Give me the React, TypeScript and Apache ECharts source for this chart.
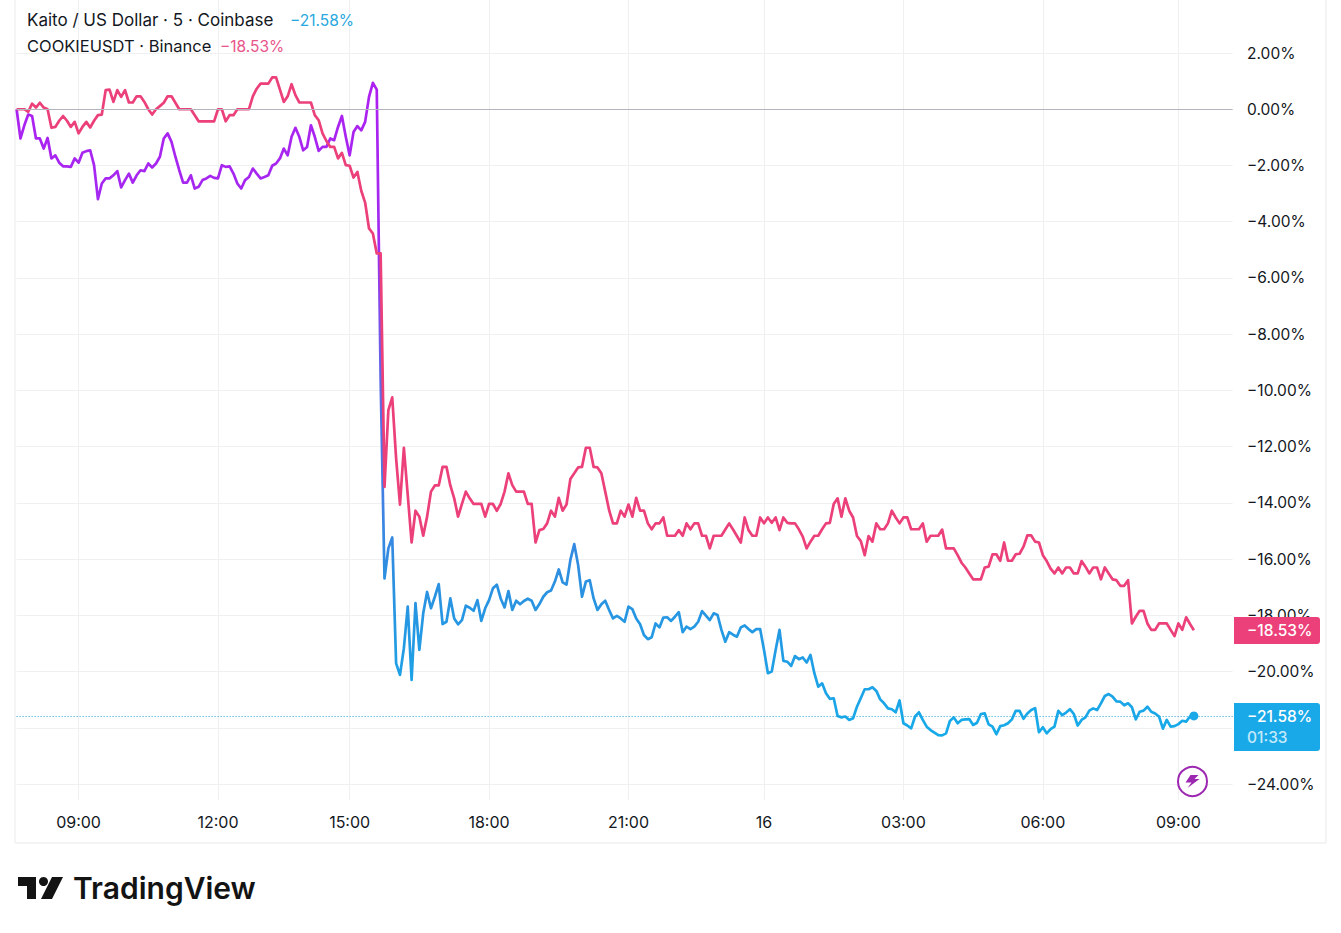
import React, { useEffect, useRef } from "react";
import * as echarts from "echarts";

const FONT = 'Inter, "Noto Sans", sans-serif';

const tickIndices = [16, 52, 86, 122, 158, 193, 229, 265, 300];
const tickLabels = ["09:00", "12:00", "15:00", "18:00", "21:00", "16", "03:00", "06:00", "09:00"];
const slotCount = 315;
const hiddenPriceLabels = [-22];

const kaitoA = [
  0, -1.04, -0.57, -0.19, -0.24, -1.04, -1.04, -1.4, -1.02, -1.75, -1.64, -1.9, -2.03, -2.03, -2.05, -1.75,
  -1.9, -1.55, -1.49, -1.46, -1.99, -3.2, -2.64, -2.46, -2.46, -2.35, -2.2, -2.78, -2.52, -2.29, -2.61, -2.35,
  -2.17, -2.2, -1.93, -2.07, -1.93, -1.69, -1.04, -0.86, -1.16, -1.69, -2.17, -2.61, -2.61, -2.35, -2.82, -2.76,
  -2.52, -2.46, -2.37, -2.44, -2.46, -1.99, -2.05, -2.03, -2.29, -2.64, -2.82, -2.52, -2.41, -2.11, -2.29, -2.46,
  -2.41, -2.35, -2.01, -1.93, -1.75, -1.4, -1.64, -0.98, -0.66, -0.98, -1.46, -1.34, -0.57, -0.98, -1.48, -1.34,
  -1.34, -1.04, -1.1, -0.63, -0.24, -0.98, -1.64, -0.81, -0.6, -0.75, -0.45, 0.44, 0.94, 0.7, -9.6,
];
const kaitoB = [
  -16.69, -15.62, -15.23, -19.71, -20.12, -19.17, -17.69, -20.3, -17.57, -19.23, -17.93, -17.17, -17.75, -17.34, -16.89,
  -18.31, -18.23, -17.4, -18.11, -18.32, -18.17, -17.66, -17.73, -17.84, -17.46, -18.2, -17.75, -17.46, -17.04, -16.91,
  -17.4, -17.72, -17.14, -17.81, -17.48, -17.61, -17.49, -17.41, -17.48, -17.81, -17.6, -17.34, -17.18, -17.12, -16.8,
  -16.37, -16.83, -16.91, -16.03, -15.47, -16.21, -17.34, -16.8, -16.75, -17.4, -17.81, -17.61, -17.48, -17.81, -18.11,
  -18.02, -18.11, -18.23, -17.69, -17.78, -18.11, -18.32, -18.7, -18.85, -18.78, -18.29, -18.43,
];
const kaitoC = [
  -18.08, -18.07, -18.2, -18.05, -17.89, -18.6, -18.4, -18.49, -18.4, -18.23, -17.85, -18.01, -18.17, -17.93, -17.99,
  -18.52, -18.94, -18.6, -18.69, -18.76, -18.43, -18.36, -18.49, -18.6, -18.49, -18.49, -19.23, -20.06, -20.0, -19.23,
  -18.52, -19.62, -19.65, -19.8, -19.45, -19.56, -19.5, -19.68, -19.41, -20.06, -20.54, -20.42, -20.77, -20.97, -20.95,
  -21.58, -21.63, -21.6, -21.72, -21.66, -21.25, -20.94, -20.63, -20.63, -20.56, -20.69, -20.99, -21.13, -21.31, -21.34,
  -21.45, -21.03, -21.84, -21.92, -22.02, -21.6, -21.45,
];
const kaitoD = [
  -21.72, -21.96, -22.08, -22.17, -22.26, -22.27, -22.2, -21.76, -21.63, -21.84, -21.72, -21.7, -21.69, -21.9, -21.82,
  -21.51, -21.49, -21.88, -21.96, -22.23, -21.94, -21.91, -21.84, -21.7, -21.4, -21.4, -21.68, -21.49, -21.37, -21.3,
  -22.16, -21.98, -22.2, -22.05, -21.96, -21.4, -21.55, -21.46, -21.34, -21.51, -21.92, -21.72, -21.63, -21.39, -21.31,
  -21.37, -21.13, -20.87, -20.8, -20.89, -21.06, -21.07, -21.2, -21.13, -21.27, -21.7, -21.43, -21.39, -21.25, -21.43,
  -21.49, -21.6, -22.03, -21.72, -21.96, -21.94, -21.87, -21.75, -21.78, -21.6, -21.58,
];
const kaitoValues = [...kaitoA, ...kaitoB, ...kaitoC, ...kaitoD];

const cookieA = [
  0, 0, 0, -0.09, 0.2, 0.06, 0.23, 0.06, 0, -0.66, -0.63, -0.41, -0.24, -0.41, -0.63, -0.45,
  -0.86, -0.63, -0.45, -0.65, -0.41, -0.21, -0.19, 0.68, 0.7, 0.26, 0.68, 0.44, 0.68, 0.24, 0.24, 0.46,
  0.46, 0.26, 0, -0.19, 0, 0.11, 0.23, 0.46, 0.46, 0.23, 0, 0, 0, 0, -0.21, -0.43,
  -0.43, -0.43, -0.43, -0.43, 0, 0, -0.43, -0.21, -0.21, 0, 0, 0, 0, 0.46, 0.73, 0.91,
  0.91, 0.91, 1.13, 1.13, 0.7, 0.26, 0.46, 0.89, 0.5, 0.24, 0.24, 0.24, 0.24, -0.21, -0.39, -0.86,
  -1.13, -1.34, -1.34, -1.75, -1.55, -1.99, -2.01, -2.43, -2.23, -2.9, -3.32, -4.24, -4.42, -5.13, -5.13,
];
const cookieB = [
  -13.43, -10.7, -10.25, -12.42, -14.06, -12.04, -13.72, -15.41, -14.28, -14.49, -15.17, -14.49, -13.6, -13.38, -13.38,
  -12.72, -12.72, -13.38, -13.84, -14.49, -14.04, -13.6, -13.84, -14.04, -14.04, -14.04, -14.49, -14.04, -14.04, -14.28,
  -14.04, -13.6, -12.95, -13.37, -13.6, -13.6, -13.6, -14.04, -14.04, -15.41, -14.97, -14.93, -14.73, -14.28, -14.49,
  -13.82, -14.28, -14.06, -13.15, -12.95, -12.74, -12.72, -12.04, -12.04, -12.72, -12.74, -12.95, -13.6, -14.26, -14.73,
  -14.73, -14.28, -14.49, -14.06, -14.49, -13.82, -14.28, -14.28, -14.73, -14.94, -14.73, -14.73,
];
const cookieC = [
  -14.52, -15.17, -15.17, -15.17, -14.97, -15.17, -14.73, -14.94, -14.73, -14.73, -15.17, -15.17, -15.62, -15.17, -15.17,
  -15.17, -14.95, -14.73, -14.95, -15.18, -15.41, -14.52, -14.97, -15.17, -15.17, -14.52, -14.73, -14.52, -14.71, -14.52,
  -14.97, -14.52, -14.71, -14.73, -14.73, -14.94, -15.2, -15.62, -15.38, -15.17, -15.17, -14.94, -14.73, -14.71, -14.04,
  -13.84, -14.49, -13.84, -14.28, -14.52, -15.18, -15.36, -15.86, -15.18, -15.38, -14.73, -14.94, -14.94, -14.73, -14.28,
  -14.52, -14.73, -14.52, -14.52, -14.94, -14.94, -14.94,
];
const cookieD = [
  -14.73, -15.38, -15.17, -15.17, -15.17, -14.95, -15.62, -15.62, -15.62, -15.86, -16.13, -16.3, -16.51, -16.72, -16.72,
  -16.72, -16.3, -16.27, -15.83, -15.83, -16.06, -15.41, -16.06, -16.06, -15.83, -15.81, -15.56, -15.16, -15.16, -15.38,
  -15.41, -15.86, -16.07, -16.34, -16.51, -16.3, -16.51, -16.3, -16.3, -16.51, -16.51, -16.07, -16.27, -16.51, -16.3,
  -16.3, -16.72, -16.3, -16.51, -16.72, -16.75, -16.95, -16.95, -16.75, -18.29, -18.05, -17.84, -17.84, -18.29, -18.52,
  -18.52, -18.29, -18.29, -18.29, -18.52, -18.74, -18.29, -18.52, -18.07, -18.31, -18.53,
];
const cookieValues = [...cookieA, ...cookieB, ...cookieC, ...cookieD];

const PINK = "#ec407a";
const CYAN = "#1aa9e8";
const lastKaito = -21.58;

echarts.graphic.registerShape(
  "tvBolt",
  echarts.graphic.extendPath("M5 0 L13 0 L9 4 L14 4 L2 13 L6 7.5 L0 7.5 Z", {})
);

export default function App() {
  const ref = useRef<HTMLDivElement>(null);
  useEffect(() => {
    if (!ref.current) return;
    const chart = echarts.init(ref.current, undefined, { renderer: "svg" });
    const categories = Array.from({ length: slotCount }, (_, i) => String(i));
    const isTick = (i: number) => tickIndices.includes(i);
    const left = 16.6;
    const width = 1216;
    chart.setOption({
      animation: false,
      backgroundColor: "#ffffff",
      textStyle: { fontFamily: FONT },
      grid: [
        { left, width, top: 0, height: 800 },
        { left, width, top: 53, height: 731 },
      ],
      xAxis: [
        {
          type: "category",
          gridIndex: 0,
          data: categories,
          boundaryGap: false,
          axisLine: { show: false },
          axisTick: { show: false },
          axisLabel: {
            interval: (i: number) => isTick(i),
            formatter: (_v: string, i: number) => tickLabels[tickIndices.indexOf(i)] ?? "",
            color: "#131722",
            fontSize: 16,
            fontFamily: FONT,
            margin: 14,
          },
          splitLine: {
            show: true,
            interval: (i: number) => isTick(i),
            lineStyle: { color: "#f0f0f2", width: 1 },
          },
        },
        {
          type: "category",
          gridIndex: 1,
          data: categories,
          boundaryGap: false,
          show: false,
        },
      ],
      yAxis: [
        { type: "value", gridIndex: 0, min: 0, max: 1, show: false },
        {
          type: "value",
          gridIndex: 1,
          position: "right",
          min: -24,
          max: 2,
          interval: 2,
          axisLine: { show: false },
          axisTick: { show: false },
          axisLabel: {
            formatter: (v: number) =>
              hiddenPriceLabels.includes(v) ? "" : (v < 0 ? "\u2212" : "") + Math.abs(v).toFixed(2) + "%",
            color: "#131722",
            fontSize: 15.5,
            fontFamily: FONT,
            margin: 14.5,
            padding: [0, 0, 1, 0],
          },
          splitLine: { show: true, lineStyle: { color: "#f0f0f2", width: 1 } },
        },
      ],
      series: [
        {
          name: "Kaito / US Dollar",
          type: "line",
          xAxisIndex: 1,
          yAxisIndex: 1,
          data: kaitoValues,
          showSymbol: false,
          smooth: false,
          lineStyle: {
            width: 2.7,
            join: "round",
            color: {
              type: "linear",
              x: 0,
              y: 0,
              x2: 0,
              y2: 1,
              colorStops: [
                { offset: 0, color: "#ae20f0" },
                { offset: 0.25, color: "#a12cf0" },
                { offset: 0.45, color: "#5f6ae6" },
                { offset: 0.76, color: "#2c90e0" },
                { offset: 1, color: "#16abe9" },
              ],
            },
          },
          markLine: {
            silent: true,
            symbol: "none",
            label: { show: false },
            lineStyle: { color: "#1f9fd4", type: [1, 2], width: 1 },
            data: [{ yAxis: lastKaito }],
          },
          markPoint: {
            silent: true,
            symbol: "circle",
            symbolSize: 9,
            label: { show: false },
            itemStyle: { color: CYAN },
            data: [{ coord: [kaitoValues.length - 1, lastKaito] }],
          },
        },
        {
          name: "COOKIEUSDT",
          type: "line",
          xAxisIndex: 1,
          yAxisIndex: 1,
          data: cookieValues,
          showSymbol: false,
          smooth: false,
          lineStyle: { width: 2.7, color: PINK, join: "round" },
          markLine: {
            silent: true,
            symbol: "none",
            label: { show: false },
            lineStyle: { color: "#b2b5be", type: "solid", width: 1 },
            data: [{ yAxis: 0 }],
          },
        },
      ],
      graphic: [
        { type: "line", silent: true, z: 1, shape: { x1: 15, y1: 0, x2: 15, y2: 843 }, style: { stroke: "#f0f0f2", lineWidth: 1.5 } },
        { type: "line", silent: true, z: 1, shape: { x1: 15, y1: 843, x2: 1326, y2: 843 }, style: { stroke: "#f0f0f2", lineWidth: 1.5 } },
        { type: "line", silent: true, z: 1, shape: { x1: 1326, y1: 0, x2: 1326, y2: 843 }, style: { stroke: "#f0f0f2", lineWidth: 1.5 } },
        { type: "text", z: 20, x: 27, y: 20, style: { text: "Kaito / US Dollar \u00b7 5 \u00b7 Coinbase", fill: "#131722", font: `17px ${FONT}`, textVerticalAlign: "middle" } },
        { type: "text", z: 20, x: 290, y: 20, style: { text: "\u221221.58%", fill: "#29a8e0", font: `15.5px ${FONT}`, textVerticalAlign: "middle" } },
        { type: "text", z: 20, x: 27, y: 46, style: { text: "COOKIEUSDT \u00b7 Binance", fill: "#131722", font: `16.5px ${FONT}`, textVerticalAlign: "middle" } },
        { type: "text", z: 20, x: 220, y: 46, style: { text: "\u221218.53%", fill: "#e8558a", font: `15.5px ${FONT}`, textVerticalAlign: "middle" } },
        { type: "rect", z: 30, shape: { x: 1234, y: 617, width: 86, height: 27, r: [0, 3, 3, 0] }, style: { fill: PINK } },
        { type: "text", z: 31, x: 1247, y: 630.5, style: { text: "\u221218.53%", fill: "#ffffff", font: `500 15.5px ${FONT}`, textVerticalAlign: "middle" } },
        { type: "rect", z: 30, shape: { x: 1234, y: 703, width: 86, height: 48, r: [0, 3, 3, 0] }, style: { fill: CYAN } },
        { type: "text", z: 31, x: 1247, y: 716, style: { text: "\u221221.58%", fill: "#ffffff", font: `500 15.5px ${FONT}`, textVerticalAlign: "middle" } },
        { type: "text", z: 31, x: 1247, y: 737.5, style: { text: "01:33", fill: "#c5e9fa", font: `500 15.5px ${FONT}`, textVerticalAlign: "middle" } },
        { type: "circle", z: 30, shape: { cx: 1192.5, cy: 781.5, r: 14.5 }, style: { fill: "#ffffff", stroke: "#9c27b0", lineWidth: 2 } },
        { type: "tvBolt", z: 31, x: 1185.5, y: 775, style: { fill: "#9c27b0" } },
        { type: "polygon", z: 30, shape: { points: [[18, 877], [36, 877], [36, 899], [27, 899], [27, 886], [18, 886]] }, style: { fill: "#131313" } },
        { type: "circle", z: 30, shape: { cx: 43.5, cy: 881.5, r: 4.5 }, style: { fill: "#131313" } },
        { type: "polygon", z: 30, shape: { points: [[52, 877], [63, 877], [52, 899], [41, 899]] }, style: { fill: "#131313" } },
        { type: "text", z: 30, x: 73, y: 888, style: { text: "TradingView", fill: "#131313", font: `600 30px Inter, "Noto Sans", sans-serif`, textVerticalAlign: "middle" } },
      ],
    });
    return () => chart.dispose();
  }, []);
  return (
    <div
      ref={ref}
      style={{ position: "absolute", left: 0, top: 0, width: 1341, height: 933 }}
    />
  );
}
